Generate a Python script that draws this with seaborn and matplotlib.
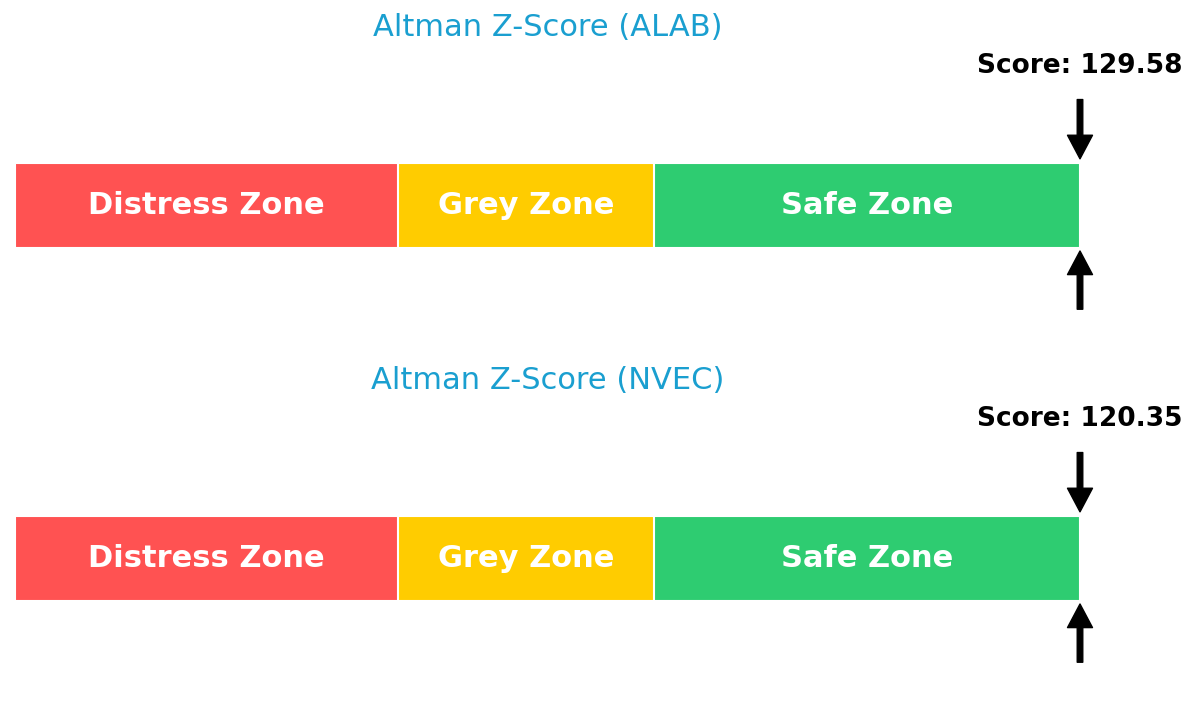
import matplotlib
matplotlib.use("Agg")
import matplotlib.pyplot as plt
import seaborn as sns

# zone boundaries of the Altman Z-score and the two companies shown
zone_names = ["Distress Zone", "Grey Zone", "Safe Zone"]
zone_starts = [0.0, 1.8, 3.0]
zone_ends = [1.8, 3.0, 5.0]
zone_colors = ["#FF5252", "#FFCC00", "#2ECC71"]

tickers = ["ALAB", "NVEC"]
scores = [129.58, 120.35]
x_max = 5.0

sns.set_style("white")
plt.rcParams["font.family"] = ["DejaVu Sans"]

fig = plt.figure(figsize=(12, 7.06), dpi=100)

# one axes per company, each taking half the figure height
tops = [0.919, 0.419]
for ticker, score, top in zip(tickers, scores, tops):
    ax = fig.add_axes([15 / 1200, top - 0.405, 1065 / 1200, 0.405])

    # stacked bar trick: draw the longest bar first, the shorter ones on top
    for name, start, end, col in reversed(list(zip(zone_names, zone_starts, zone_ends, zone_colors))):
        sns.barplot(x=[end], y=[0], orient="h", color=col, saturation=1,
                    width=0.8, edgecolor="white", linewidth=1.5, ax=ax)
        ax.text((start + end) / 2, 0, name, ha="center", va="center",
                color="white", fontsize=22, fontweight="bold")

    ax.set_xlim(0, x_max)
    ax.set_ylim(-1.3, 1.4)
    ax.axis("off")

    # marker clipped to the end of the scale
    pos = min(score, x_max)
    arrow = dict(facecolor="black", edgecolor="black", width=4,
                 headwidth=18, headlength=17, shrink=0)
    ax.annotate("", xy=(pos, 0.44), xytext=(pos, 1.0),
                arrowprops=arrow, annotation_clip=False)
    ax.annotate("", xy=(pos, -0.43), xytext=(pos, -0.98),
                arrowprops=arrow, annotation_clip=False)
    ax.text(pos, 1.32, f"Score: {score:.2f}", ha="center", va="center",
            fontsize=19, fontweight="bold", color="black", clip_on=False)

    ax.set_title(f"Altman Z-Score ({ticker})", color="#1A9FD0", fontsize=22, pad=15)

fig.savefig("out.png", dpi=100, facecolor="white")
